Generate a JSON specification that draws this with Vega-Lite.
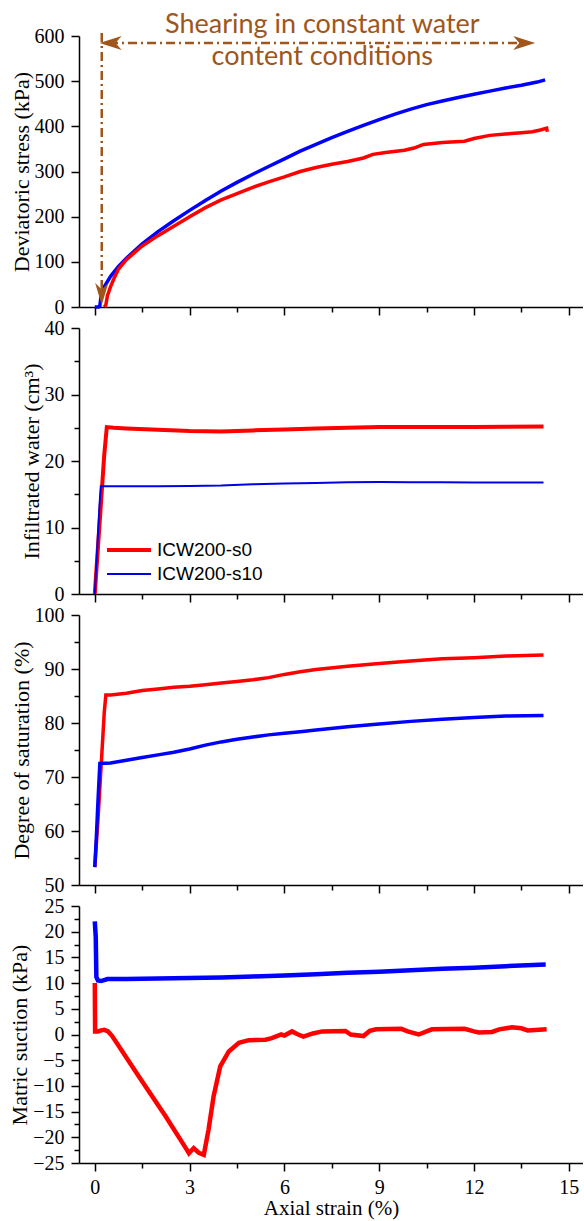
{
  "$schema": "https://vega.github.io/schema/vega-lite/v6.json",
  "background": "white",
  "padding": {"left": 8, "top": 11, "right": 0, "bottom": 2},
  "spacing": 21,
  "bounds": "flush",
  "resolve": {"scale": {"color": "independent", "strokeWidth": "independent"}, "legend": {"color": "independent", "strokeWidth": "independent"}},
  "config": {
    "view": {"stroke": null},
    "axis": {
      "domainColor": "black", "domainWidth": 1.5, "tickColor": "black", "tickWidth": 1.5, "tickSize": 8,
      "labelFont": "Liberation Serif", "labelFontSize": 20, "labelColor": "black", "labelOverlap": false, "labelFlush": false,
      "titleFont": "Liberation Serif", "titleFontSize": 22, "titleFontWeight": "normal", "titleColor": "black",
      "grid": false, "labelPadding": 7, "titlePadding": 1
    }
  },
  "datasets": {
    "p1": [
      {"x": 0, "y": 0, "s": "ICW200-s10"}, {"x": 0.12, "y": 0, "s": "ICW200-s10"}, {"x": 0.16, "y": 3, "s": "ICW200-s10"},
      {"x": 0.2, "y": 25, "s": "ICW200-s10"}, {"x": 0.3, "y": 45, "s": "ICW200-s10"}, {"x": 0.5, "y": 68, "s": "ICW200-s10"},
      {"x": 0.75, "y": 90, "s": "ICW200-s10"}, {"x": 1.0, "y": 108, "s": "ICW200-s10"}, {"x": 1.5, "y": 140, "s": "ICW200-s10"},
      {"x": 2.0, "y": 167, "s": "ICW200-s10"}, {"x": 2.5, "y": 191, "s": "ICW200-s10"}, {"x": 3.0, "y": 214, "s": "ICW200-s10"},
      {"x": 3.5, "y": 236, "s": "ICW200-s10"}, {"x": 4.0, "y": 257, "s": "ICW200-s10"}, {"x": 4.5, "y": 276, "s": "ICW200-s10"},
      {"x": 5.0, "y": 294, "s": "ICW200-s10"}, {"x": 5.5, "y": 311, "s": "ICW200-s10"}, {"x": 6.0, "y": 328, "s": "ICW200-s10"},
      {"x": 6.5, "y": 345, "s": "ICW200-s10"}, {"x": 7.0, "y": 360, "s": "ICW200-s10"}, {"x": 7.5, "y": 375, "s": "ICW200-s10"},
      {"x": 8.0, "y": 389, "s": "ICW200-s10"}, {"x": 8.5, "y": 402, "s": "ICW200-s10"}, {"x": 9.0, "y": 415, "s": "ICW200-s10"},
      {"x": 9.5, "y": 427, "s": "ICW200-s10"}, {"x": 10.0, "y": 438, "s": "ICW200-s10"}, {"x": 10.5, "y": 448, "s": "ICW200-s10"},
      {"x": 11.0, "y": 456, "s": "ICW200-s10"}, {"x": 11.5, "y": 464, "s": "ICW200-s10"}, {"x": 12.0, "y": 471, "s": "ICW200-s10"},
      {"x": 12.5, "y": 478, "s": "ICW200-s10"}, {"x": 13.0, "y": 485, "s": "ICW200-s10"}, {"x": 13.5, "y": 491, "s": "ICW200-s10"},
      {"x": 14.0, "y": 498, "s": "ICW200-s10"}, {"x": 14.25, "y": 503, "s": "ICW200-s10"},
      {"x": 0.3, "y": 0, "s": "ICW200-s0"}, {"x": 0.35, "y": 5, "s": "ICW200-s0"}, {"x": 0.4, "y": 25, "s": "ICW200-s0"},
      {"x": 0.5, "y": 45, "s": "ICW200-s0"}, {"x": 0.6, "y": 62, "s": "ICW200-s0"}, {"x": 0.75, "y": 84, "s": "ICW200-s0"},
      {"x": 1.0, "y": 105, "s": "ICW200-s0"}, {"x": 1.5, "y": 135, "s": "ICW200-s0"}, {"x": 2.0, "y": 158, "s": "ICW200-s0"},
      {"x": 2.5, "y": 179, "s": "ICW200-s0"}, {"x": 3.0, "y": 200, "s": "ICW200-s0"}, {"x": 3.5, "y": 220, "s": "ICW200-s0"},
      {"x": 4.0, "y": 237, "s": "ICW200-s0"}, {"x": 4.5, "y": 251, "s": "ICW200-s0"}, {"x": 5.0, "y": 265, "s": "ICW200-s0"},
      {"x": 5.5, "y": 277, "s": "ICW200-s0"}, {"x": 6.0, "y": 288, "s": "ICW200-s0"}, {"x": 6.5, "y": 300, "s": "ICW200-s0"},
      {"x": 7.0, "y": 309, "s": "ICW200-s0"}, {"x": 7.5, "y": 316, "s": "ICW200-s0"}, {"x": 8.0, "y": 322, "s": "ICW200-s0"},
      {"x": 8.5, "y": 330, "s": "ICW200-s0"}, {"x": 8.8, "y": 338, "s": "ICW200-s0"}, {"x": 9.2, "y": 342, "s": "ICW200-s0"},
      {"x": 9.8, "y": 347, "s": "ICW200-s0"}, {"x": 10.1, "y": 352, "s": "ICW200-s0"}, {"x": 10.4, "y": 360, "s": "ICW200-s0"},
      {"x": 11.0, "y": 364, "s": "ICW200-s0"}, {"x": 11.7, "y": 367, "s": "ICW200-s0"}, {"x": 12.0, "y": 373, "s": "ICW200-s0"},
      {"x": 12.5, "y": 380, "s": "ICW200-s0"}, {"x": 13.0, "y": 383, "s": "ICW200-s0"}, {"x": 13.5, "y": 386, "s": "ICW200-s0"},
      {"x": 13.85, "y": 388, "s": "ICW200-s0"}, {"x": 14.1, "y": 392, "s": "ICW200-s0"}, {"x": 14.3, "y": 396, "s": "ICW200-s0"},
      {"x": 14.32, "y": 388, "s": "ICW200-s0"}
    ],
    "p2": [
      {"x": 0, "y": 0, "s": "ICW200-s0"}, {"x": 0.1, "y": 7, "s": "ICW200-s0"}, {"x": 0.2, "y": 14, "s": "ICW200-s0"},
      {"x": 0.3, "y": 21, "s": "ICW200-s0"}, {"x": 0.38, "y": 25.1, "s": "ICW200-s0"}, {"x": 0.6, "y": 25.0, "s": "ICW200-s0"},
      {"x": 1.0, "y": 24.9, "s": "ICW200-s0"}, {"x": 2.0, "y": 24.7, "s": "ICW200-s0"}, {"x": 3.0, "y": 24.5, "s": "ICW200-s0"},
      {"x": 4.0, "y": 24.45, "s": "ICW200-s0"}, {"x": 5.0, "y": 24.6, "s": "ICW200-s0"}, {"x": 6.0, "y": 24.75, "s": "ICW200-s0"},
      {"x": 7.0, "y": 24.9, "s": "ICW200-s0"}, {"x": 8.0, "y": 25.0, "s": "ICW200-s0"}, {"x": 9.0, "y": 25.1, "s": "ICW200-s0"},
      {"x": 10.0, "y": 25.1, "s": "ICW200-s0"}, {"x": 11.0, "y": 25.1, "s": "ICW200-s0"}, {"x": 12.0, "y": 25.1, "s": "ICW200-s0"},
      {"x": 13.0, "y": 25.15, "s": "ICW200-s0"}, {"x": 14.2, "y": 25.2, "s": "ICW200-s0"},
      {"x": 0, "y": 0, "s": "ICW200-s10"}, {"x": 0.05, "y": 4.5, "s": "ICW200-s10"}, {"x": 0.1, "y": 9, "s": "ICW200-s10"},
      {"x": 0.15, "y": 13.5, "s": "ICW200-s10"}, {"x": 0.19, "y": 16.2, "s": "ICW200-s10"}, {"x": 1.0, "y": 16.2, "s": "ICW200-s10"},
      {"x": 2.0, "y": 16.2, "s": "ICW200-s10"}, {"x": 3.0, "y": 16.25, "s": "ICW200-s10"}, {"x": 4.0, "y": 16.3, "s": "ICW200-s10"},
      {"x": 5.0, "y": 16.5, "s": "ICW200-s10"}, {"x": 6.0, "y": 16.6, "s": "ICW200-s10"}, {"x": 7.0, "y": 16.7, "s": "ICW200-s10"},
      {"x": 8.0, "y": 16.8, "s": "ICW200-s10"}, {"x": 9.0, "y": 16.85, "s": "ICW200-s10"}, {"x": 10.0, "y": 16.8, "s": "ICW200-s10"},
      {"x": 11.0, "y": 16.8, "s": "ICW200-s10"}, {"x": 12.0, "y": 16.75, "s": "ICW200-s10"}, {"x": 13.0, "y": 16.75, "s": "ICW200-s10"},
      {"x": 14.2, "y": 16.75, "s": "ICW200-s10"}
    ],
    "p3": [
      {"x": 0, "y": 53.3, "s": "ICW200-s0"}, {"x": 0.1, "y": 62, "s": "ICW200-s0"}, {"x": 0.2, "y": 72, "s": "ICW200-s0"},
      {"x": 0.3, "y": 82, "s": "ICW200-s0"}, {"x": 0.35, "y": 85.2, "s": "ICW200-s0"}, {"x": 0.5, "y": 85.2, "s": "ICW200-s0"},
      {"x": 1.0, "y": 85.5, "s": "ICW200-s0"}, {"x": 1.5, "y": 86.0, "s": "ICW200-s0"}, {"x": 2.0, "y": 86.3, "s": "ICW200-s0"},
      {"x": 2.5, "y": 86.6, "s": "ICW200-s0"}, {"x": 3.0, "y": 86.8, "s": "ICW200-s0"}, {"x": 3.5, "y": 87.1, "s": "ICW200-s0"},
      {"x": 4.0, "y": 87.4, "s": "ICW200-s0"}, {"x": 4.5, "y": 87.7, "s": "ICW200-s0"}, {"x": 5.0, "y": 88.0, "s": "ICW200-s0"},
      {"x": 5.5, "y": 88.4, "s": "ICW200-s0"}, {"x": 6.0, "y": 89.0, "s": "ICW200-s0"}, {"x": 6.5, "y": 89.5, "s": "ICW200-s0"},
      {"x": 7.0, "y": 89.9, "s": "ICW200-s0"}, {"x": 8.0, "y": 90.5, "s": "ICW200-s0"}, {"x": 9.0, "y": 91.0, "s": "ICW200-s0"},
      {"x": 10.0, "y": 91.5, "s": "ICW200-s0"}, {"x": 11.0, "y": 91.9, "s": "ICW200-s0"}, {"x": 12.0, "y": 92.1, "s": "ICW200-s0"},
      {"x": 13.0, "y": 92.4, "s": "ICW200-s0"}, {"x": 14.2, "y": 92.6, "s": "ICW200-s0"},
      {"x": 0, "y": 53.3, "s": "ICW200-s10"}, {"x": 0.05, "y": 59, "s": "ICW200-s10"}, {"x": 0.1, "y": 65.5, "s": "ICW200-s10"},
      {"x": 0.16, "y": 72.5, "s": "ICW200-s10"}, {"x": 0.5, "y": 72.6, "s": "ICW200-s10"}, {"x": 1.0, "y": 73.1, "s": "ICW200-s10"},
      {"x": 1.5, "y": 73.6, "s": "ICW200-s10"}, {"x": 2.0, "y": 74.1, "s": "ICW200-s10"}, {"x": 2.5, "y": 74.6, "s": "ICW200-s10"},
      {"x": 3.0, "y": 75.2, "s": "ICW200-s10"}, {"x": 3.5, "y": 75.9, "s": "ICW200-s10"}, {"x": 4.0, "y": 76.5, "s": "ICW200-s10"},
      {"x": 4.5, "y": 77.0, "s": "ICW200-s10"}, {"x": 5.0, "y": 77.4, "s": "ICW200-s10"}, {"x": 5.5, "y": 77.8, "s": "ICW200-s10"},
      {"x": 6.0, "y": 78.1, "s": "ICW200-s10"}, {"x": 6.5, "y": 78.4, "s": "ICW200-s10"}, {"x": 7.0, "y": 78.7, "s": "ICW200-s10"},
      {"x": 8.0, "y": 79.3, "s": "ICW200-s10"}, {"x": 9.0, "y": 79.8, "s": "ICW200-s10"}, {"x": 10.0, "y": 80.3, "s": "ICW200-s10"},
      {"x": 11.0, "y": 80.7, "s": "ICW200-s10"}, {"x": 12.0, "y": 81.0, "s": "ICW200-s10"}, {"x": 13.0, "y": 81.3, "s": "ICW200-s10"},
      {"x": 14.2, "y": 81.4, "s": "ICW200-s10"}
    ],
    "p4": [
      {"x": 0, "y": 22, "s": "ICW200-s10"}, {"x": 0.03, "y": 19, "s": "ICW200-s10"}, {"x": 0.05, "y": 11.2, "s": "ICW200-s10"},
      {"x": 0.1, "y": 10.5, "s": "ICW200-s10"}, {"x": 0.2, "y": 10.4, "s": "ICW200-s10"}, {"x": 0.4, "y": 10.8, "s": "ICW200-s10"},
      {"x": 1.0, "y": 10.8, "s": "ICW200-s10"}, {"x": 2.0, "y": 10.9, "s": "ICW200-s10"}, {"x": 3.0, "y": 11.0, "s": "ICW200-s10"},
      {"x": 4.0, "y": 11.1, "s": "ICW200-s10"}, {"x": 5.0, "y": 11.3, "s": "ICW200-s10"}, {"x": 6.0, "y": 11.5, "s": "ICW200-s10"},
      {"x": 7.0, "y": 11.7, "s": "ICW200-s10"}, {"x": 8.0, "y": 12.0, "s": "ICW200-s10"}, {"x": 9.0, "y": 12.2, "s": "ICW200-s10"},
      {"x": 10.0, "y": 12.5, "s": "ICW200-s10"}, {"x": 11.0, "y": 12.8, "s": "ICW200-s10"}, {"x": 12.0, "y": 13.0, "s": "ICW200-s10"},
      {"x": 13.0, "y": 13.3, "s": "ICW200-s10"}, {"x": 14.27, "y": 13.6, "s": "ICW200-s10"},
      {"x": 0, "y": 10, "s": "ICW200-s0"}, {"x": 0.01, "y": 0.6, "s": "ICW200-s0"}, {"x": 0.1, "y": 0.6, "s": "ICW200-s0"},
      {"x": 0.2, "y": 0.8, "s": "ICW200-s0"}, {"x": 0.3, "y": 0.9, "s": "ICW200-s0"}, {"x": 0.42, "y": 0.6, "s": "ICW200-s0"},
      {"x": 0.55, "y": -0.3, "s": "ICW200-s0"}, {"x": 1.4, "y": -8.2, "s": "ICW200-s0"}, {"x": 2.24, "y": -15.9, "s": "ICW200-s0"},
      {"x": 2.88, "y": -22.1, "s": "ICW200-s0"}, {"x": 2.98, "y": -23.1, "s": "ICW200-s0"}, {"x": 3.13, "y": -22.1, "s": "ICW200-s0"},
      {"x": 3.29, "y": -23.0, "s": "ICW200-s0"}, {"x": 3.45, "y": -23.4, "s": "ICW200-s0"}, {"x": 3.6, "y": -18.5, "s": "ICW200-s0"},
      {"x": 3.76, "y": -12.0, "s": "ICW200-s0"}, {"x": 3.97, "y": -6.2, "s": "ICW200-s0"}, {"x": 4.24, "y": -3.3, "s": "ICW200-s0"},
      {"x": 4.56, "y": -1.6, "s": "ICW200-s0"}, {"x": 4.87, "y": -1.1, "s": "ICW200-s0"}, {"x": 5.4, "y": -1.0, "s": "ICW200-s0"},
      {"x": 5.6, "y": -0.7, "s": "ICW200-s0"}, {"x": 5.9, "y": 0, "s": "ICW200-s0"}, {"x": 6.0, "y": -0.2, "s": "ICW200-s0"},
      {"x": 6.24, "y": 0.6, "s": "ICW200-s0"}, {"x": 6.4, "y": 0.1, "s": "ICW200-s0"}, {"x": 6.6, "y": -0.4, "s": "ICW200-s0"},
      {"x": 6.9, "y": 0.2, "s": "ICW200-s0"}, {"x": 7.2, "y": 0.6, "s": "ICW200-s0"}, {"x": 7.93, "y": 0.7, "s": "ICW200-s0"},
      {"x": 8.1, "y": 0, "s": "ICW200-s0"}, {"x": 8.5, "y": -0.3, "s": "ICW200-s0"}, {"x": 8.7, "y": 0.7, "s": "ICW200-s0"},
      {"x": 8.9, "y": 1.0, "s": "ICW200-s0"}, {"x": 9.7, "y": 1.1, "s": "ICW200-s0"}, {"x": 9.9, "y": 0.6, "s": "ICW200-s0"},
      {"x": 10.25, "y": 0, "s": "ICW200-s0"}, {"x": 10.5, "y": 0.6, "s": "ICW200-s0"}, {"x": 10.67, "y": 1.0, "s": "ICW200-s0"},
      {"x": 11.7, "y": 1.1, "s": "ICW200-s0"}, {"x": 12.0, "y": 0.6, "s": "ICW200-s0"}, {"x": 12.15, "y": 0.4, "s": "ICW200-s0"},
      {"x": 12.57, "y": 0.5, "s": "ICW200-s0"}, {"x": 12.8, "y": 1.0, "s": "ICW200-s0"}, {"x": 13.2, "y": 1.4, "s": "ICW200-s0"},
      {"x": 13.5, "y": 1.2, "s": "ICW200-s0"}, {"x": 13.7, "y": 0.8, "s": "ICW200-s0"}, {"x": 14.3, "y": 1.0, "s": "ICW200-s0"}
    ],
    "one": [{}]
  },
  "vconcat": [
    {
      "width": 504, "height": 271,
      "layer": [
        {
          "data": {"name": "p1"},
          "mark": {"type": "line", "strokeWidth": 3.5},
          "encoding": {
            "x": {"field": "x", "type": "quantitative", "scale": {"domain": [-0.5, 15.45], "nice": false},
                  "axis": {"values": [0, 1.5, 3, 4.5, 6, 7.5, 9, 10.5, 12, 13.5, 15], "labels": false, "title": null,
                           "tickSize": {"condition": {"test": "datum.value % 3 === 0", "value": 8}, "value": 5}}},
            "y": {"field": "y", "type": "quantitative", "scale": {"domain": [0, 600], "nice": false},
                  "axis": {"values": [0, 50, 100, 150, 200, 250, 300, 350, 400, 450, 500, 550, 600], "title": "Deviatoric stress (kPa)",
                           "labelFontSize": 20, "labelExpr": "datum.value % 100 === 0 ? datum.label : ''",
                           "tickSize": {"condition": {"test": "datum.value % 100 === 0", "value": 8}, "value": 5}}},
            "color": {"field": "s", "type": "nominal", "legend": null,
                      "scale": {"domain": ["ICW200-s0", "ICW200-s10"], "range": ["#ff0000", "#0000ff"]}}
          }
        },
        {
          "data": {"name": "one"},
          "mark": {"type": "rule", "color": "#a0561a", "strokeWidth": 2.5, "strokeDash": [9, 4, 2, 4]},
          "encoding": {
            "x": {"datum": 0.22, "type": "quantitative"},
            "y": {"datum": 40, "type": "quantitative"},
            "y2": {"datum": 613}
          }
        },
        {
          "data": {"name": "one"},
          "mark": {"type": "rule", "color": "#a0561a", "strokeWidth": 2.5, "strokeDash": [9, 4, 2, 4]},
          "encoding": {
            "x": {"datum": 0.45, "type": "quantitative"},
            "x2": {"datum": 13.45},
            "y": {"datum": 584.5, "type": "quantitative"}
          }
        },
        {
          "data": {"name": "one"},
          "mark": {"type": "point", "filled": true, "opacity": 1, "color": "#a0561a", "size": 484, "shape": "M0,1L-0.6,-1L0,-0.4L0.6,-1Z"},
          "encoding": {
            "x": {"datum": 0.22, "type": "quantitative"},
            "y": {"datum": 28.8, "type": "quantitative"}
          }
        },
        {
          "data": {"name": "one"},
          "mark": {"type": "point", "filled": true, "opacity": 1, "color": "#a0561a", "size": 484, "shape": "M-1,0L1,-0.64L0.45,0L1,0.64Z"},
          "encoding": {
            "x": {"datum": 0.5, "type": "quantitative"},
            "y": {"datum": 584.5, "type": "quantitative"}
          }
        },
        {
          "data": {"name": "one"},
          "mark": {"type": "point", "filled": true, "opacity": 1, "color": "#a0561a", "size": 484, "shape": "M1,0L-1,-0.64L-0.45,0L-1,0.64Z"},
          "encoding": {
            "x": {"datum": 13.59, "type": "quantitative"},
            "y": {"datum": 584.5, "type": "quantitative"}
          }
        },
        {
          "data": {"name": "one"},
          "mark": {"type": "text", "font": "Lato", "fontSize": 27, "color": "#a0561a", "align": "center", "baseline": "alphabetic", "lineHeight": 32},
          "encoding": {
            "x": {"datum": 7.2, "type": "quantitative"},
            "y": {"datum": 606.6, "type": "quantitative"},
            "text": {"value": ["Shearing in constant water", "content conditions"]}
          }
        }
      ]
    },
    {
      "width": 504, "height": 266,
      "data": {"name": "p2"},
      "mark": {"type": "line"},
      "encoding": {
        "x": {"field": "x", "type": "quantitative", "scale": {"domain": [-0.5, 15.45], "nice": false},
              "axis": {"values": [0, 1.5, 3, 4.5, 6, 7.5, 9, 10.5, 12, 13.5, 15], "labels": false, "title": null,
                       "tickSize": {"condition": {"test": "datum.value % 3 === 0", "value": 8}, "value": 5}}},
        "y": {"field": "y", "type": "quantitative", "scale": {"domain": [0, 40], "nice": false},
              "axis": {"values": [0, 5, 10, 15, 20, 25, 30, 35, 40], "title": "Infiltrated water (cm³)",
                       "labelExpr": "datum.value % 10 === 0 ? datum.label : ''",
                       "tickSize": {"condition": {"test": "datum.value % 10 === 0", "value": 8}, "value": 5}}},
        "color": {"field": "s", "type": "nominal",
                  "scale": {"domain": ["ICW200-s0", "ICW200-s10"], "range": ["#ff0000", "#0000e6"]},
                  "legend": {"orient": "none", "legendX": 37, "legendY": 209, "title": null, "symbolType": "M-2,0L2,0",
                             "symbolSize": 484, "labelFont": "Liberation Sans", "labelFontSize": 19, "labelColor": "black",
                             "labelOffset": 15, "rowPadding": 2}},
        "strokeWidth": {"field": "s", "type": "nominal",
                        "scale": {"type": "ordinal", "domain": ["ICW200-s0", "ICW200-s10"], "range": [4, 2]},
                        "legend": {"orient": "none", "legendX": 37, "legendY": 209, "title": null, "symbolType": "M-2,0L2,0",
                                   "symbolSize": 484, "labelFont": "Liberation Sans", "labelFontSize": 19, "labelColor": "black",
                                   "labelOffset": 15, "rowPadding": 2}}
      }
    },
    {
      "width": 504, "height": 270,
      "data": {"name": "p3"},
      "mark": {"type": "line", "strokeWidth": 3.5},
      "encoding": {
        "x": {"field": "x", "type": "quantitative", "scale": {"domain": [-0.5, 15.45], "nice": false},
              "axis": {"values": [0, 1.5, 3, 4.5, 6, 7.5, 9, 10.5, 12, 13.5, 15], "labels": false, "title": null,
                       "tickSize": {"condition": {"test": "datum.value % 3 === 0", "value": 8}, "value": 5}}},
        "y": {"field": "y", "type": "quantitative", "scale": {"domain": [50, 100], "nice": false, "zero": false},
              "axis": {"values": [50, 55, 60, 65, 70, 75, 80, 85, 90, 95, 100], "title": "Degree of saturation (%)",
                       "labelExpr": "datum.value % 10 === 0 ? datum.label : ''",
                       "tickSize": {"condition": {"test": "datum.value % 10 === 0", "value": 8}, "value": 5}}},
        "color": {"field": "s", "type": "nominal", "legend": null,
                  "scale": {"domain": ["ICW200-s0", "ICW200-s10"], "range": ["#ff0000", "#0000ff"]}}
      }
    },
    {
      "width": 504, "height": 257,
      "data": {"name": "p4"},
      "mark": {"type": "line", "strokeWidth": 4.5},
      "encoding": {
        "x": {"field": "x", "type": "quantitative", "scale": {"domain": [-0.5, 15.45], "nice": false},
              "axis": {"values": [0, 1.5, 3, 4.5, 6, 7.5, 9, 10.5, 12, 13.5, 15], "title": "Axial strain (%)", "titleFontSize": 21,
                       "labelExpr": "datum.value % 3 === 0 ? datum.label : ''", "labelPadding": 6, "titlePadding": 0,
                       "tickSize": {"condition": {"test": "datum.value % 3 === 0", "value": 8}, "value": 5}}},
        "y": {"field": "y", "type": "quantitative", "scale": {"domain": [-25, 25], "nice": false},
              "axis": {"values": [-25, -22.5, -20, -17.5, -15, -12.5, -10, -7.5, -5, -2.5, 0, 2.5, 5, 7.5, 10, 12.5, 15, 17.5, 20, 22.5, 25],
                       "title": "Matric suction (kPa)",
                       "labelExpr": "datum.value % 5 === 0 ? datum.label : ''",
                       "tickSize": {"condition": {"test": "datum.value % 5 === 0", "value": 8}, "value": 5}}},
        "color": {"field": "s", "type": "nominal", "legend": null,
                  "scale": {"domain": ["ICW200-s0", "ICW200-s10"], "range": ["#ff0000", "#0000ff"]}}
      }
    }
  ]
}
